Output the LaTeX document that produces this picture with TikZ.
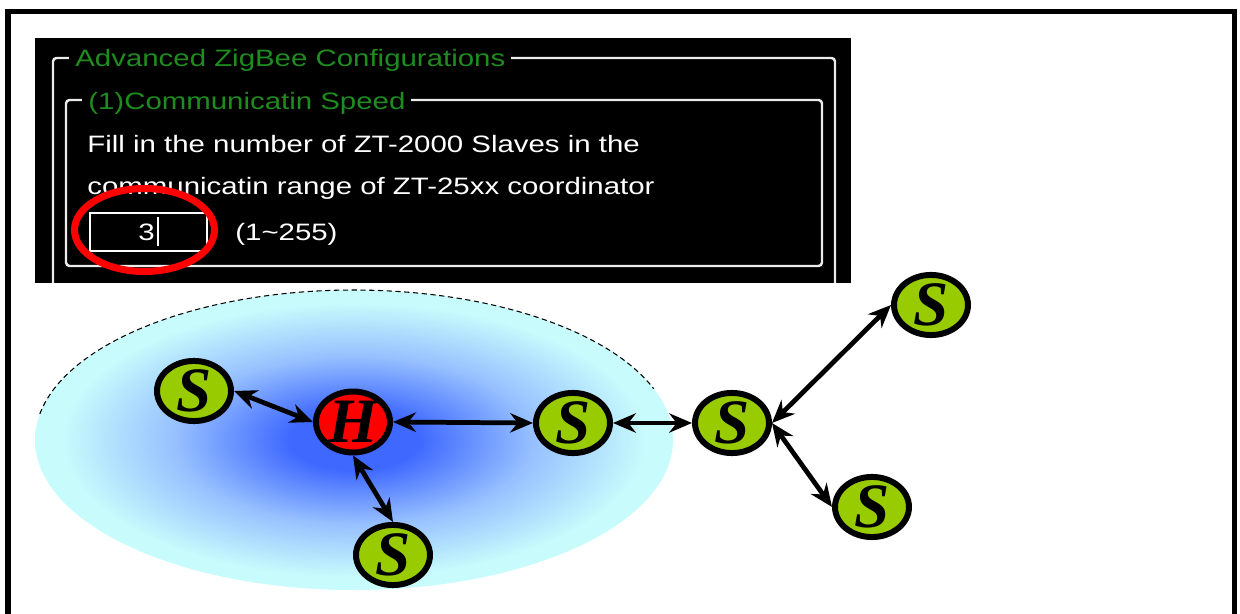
\documentclass[tikz,border=0pt]{standalone}
\usepackage{fontspec}
\usetikzlibrary{shapes.geometric,arrows.meta}
\newfontfamily\uifont[FakeStretch=1.24]{Liberation Sans}
\newfontfamily\nodefont{Liberation Serif}
\definecolor{zblue}{RGB}{62,104,255}
\definecolor{zmid}{RGB}{150,192,255}
\definecolor{zcyan}{RGB}{200,252,252}
\definecolor{sgreen}{RGB}{153,204,0}
\definecolor{uigreen}{RGB}{30,140,30}
\definecolor{uiline}{RGB}{235,235,235}
\pgfdeclareradialshading{zone}{\pgfpoint{0bp}{0bp}}{color(0bp)=(zblue); color(5bp)=(zblue); color(14bp)=(zmid); color(23bp)=(zcyan); color(50bp)=(zcyan)}
\pgfdeclarelayer{bg}
\pgfsetlayers{bg,main}
\tikzset{
    slave/.style={ellipse, draw, line width=3.4pt, fill=sgreen, inner sep=0mm,
        minimum width=1.48cm, minimum height=1.16cm,
        font=\nodefont\bfseries\itshape\fontsize{36}{36}\selectfont},
    hub/.style={slave, fill=red, minimum height=1.22cm},
    link/.style={line width=2.7pt, {Stealth[length=13pt,width=11pt]}-{Stealth[length=13pt,width=11pt]}}
}
\tikzset{
    ui/.style={inner sep=0mm, text=white, font=\uifont\fontsize{13.5}{16}\selectfont},
    uititle/.style={ui, text=uigreen, fill=black, inner xsep=3.4pt, inner ysep=2pt},
    uibox/.style={draw=uiline, line width=1.4pt, rounded corners=2pt}
}

\begin{document}
\begin{tikzpicture}[x=0.02cm, y=-0.02cm]
  \useasboundingbox (0,0) rectangle (1240,614);
  \draw[line width=2.85pt] (8,614) -- (8,11.5) -- (1234.5,11.5) -- (1234.5,614);

  % screenshot of the setting
  \fill[black] (35,38) rectangle (851,283);
  \draw[uibox] (53,283) -- (53,58) -- (835,58) -- (835,283);
  \draw[uibox] (66,100) rectangle (822,266);
  \node[uititle, anchor=base west] (cfg) at (69,67) {Advanced ZigBee Configurations};
  \node[uititle, anchor=base west] (speed) at (82,110) {(1)Communicatin Speed};
  \node[ui, anchor=base west] (hint1) at (87,153) {Fill in the number of ZT-2000 Slaves in the};
  \node[ui, anchor=base west] (hint2) at (87,195) {communicatin range of ZT-25xx coordinator};
  \node[draw=white, line width=1.5pt, minimum width=2.34cm, minimum height=0.76cm, inner sep=0mm] (entry) at (148.5,232) {};
  \node[ui, anchor=base east] (val) at (155,241) {3};
  \draw[white, line width=0.7pt] (158,217) -- (158,246);
  \node[ui, anchor=base west] (range) at (235,241) {(1\textasciitilde255)};
  \node[ellipse, draw=red, line width=4pt, minimum width=2.8cm, minimum height=1.66cm] (mark) at (144.5,230) {};

  % network
  \node[slave] (s1) at (194,391) {S};
  \node[hub] (hub) at (353,422) {H};
  \node[slave] (s2) at (573,423) {S};
  \node[slave] (s3) at (732,423) {S};
  \node[slave] (s4) at (931,305) {S};
  \node[slave] (s5) at (872,507) {S};
  \node[slave] (s6) at (393,555) {S};

  \begin{pgfonlayer}{bg}
	  \shade[shading=zone] (354,440) ellipse [x radius=319, y radius=150];
	  \draw[densely dashed, line width=0.6pt] (39.8,414) arc[start angle=190, end angle=340, x radius=319, y radius=150];

	  \draw (s1.east) edge[link] (hub.west);
	  \draw (hub.east) edge[link] (s2.west);
	  \draw (hub.south) edge[link] (s6.north);
	  \draw (s2.east) edge[link] (s3.west);
	  \draw (s3.east) edge[link] (s4.west);
	  \draw (s3.east) edge[link] (s5.west);
  \end{pgfonlayer}

\end{tikzpicture}
\end{document}
